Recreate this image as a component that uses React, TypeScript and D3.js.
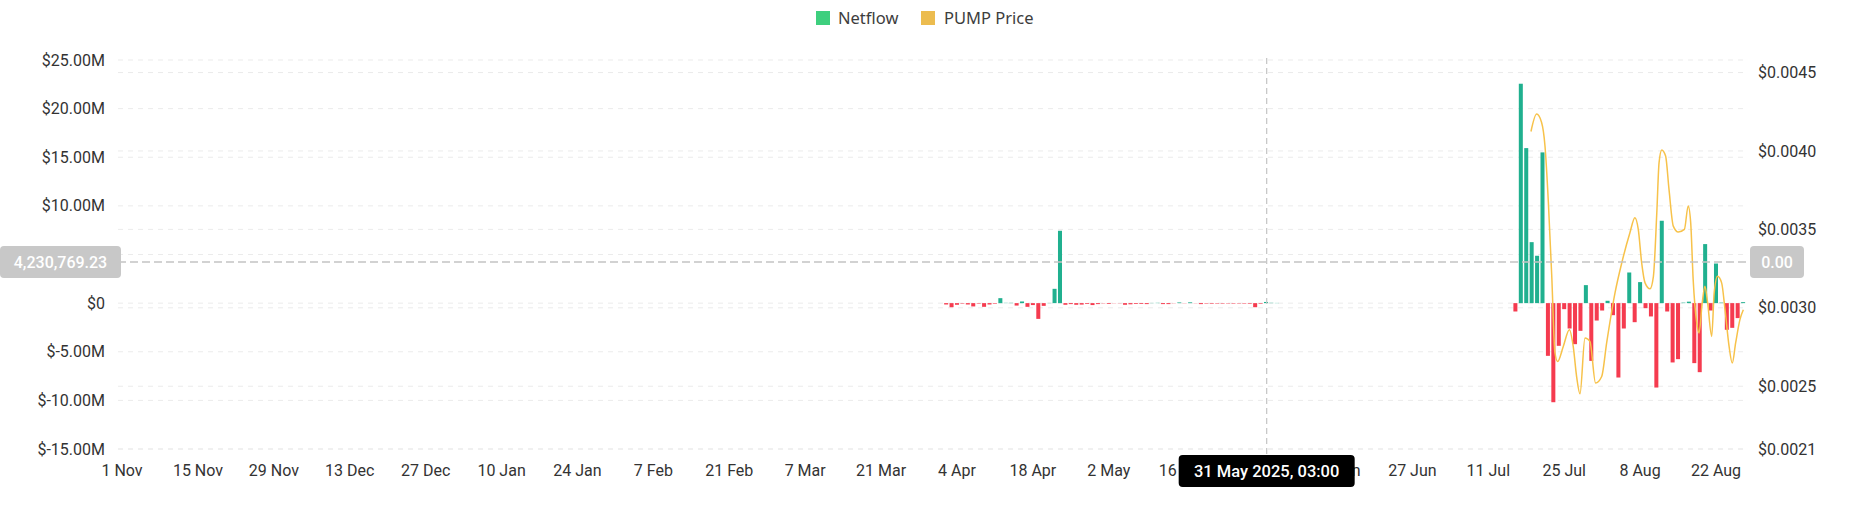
import * as d3 from "d3";

const W = 1852;
const H = 525;
const M = { top: 60, right: 108, bottom: 76, left: 118 };

// daily netflow, $M
const springStart = "2025-04-02";
const springNetflow = [
  -0.14, -0.42, -0.17, -0.05, -0.14, -0.34, -0.05, -0.38, -0.14, -0.06, 0.51, 0.03, 0.03, -0.25, 0.17,
  -0.38, -0.2, -1.62, -0.28, 0.02, 1.47, 7.44, -0.17, -0.1, -0.17, -0.15, -0.08, -0.2, -0.1, -0.03,
  -0.08, -0.02, -0.02, -0.17, -0.12, -0.08, -0.08, -0.1, 0.02, 0.03, -0.1, -0.1, -0.02, 0.07, -0.02,
  0.08, -0.02, -0.1, -0.05, -0.06, -0.05, -0.05, -0.04, -0.05, -0.04, -0.05, -0.06, -0.42, -0.06, 0.12,
  0.03, 0.02,
];
const summerStart = "2025-07-16";
const summerNetflow = [
  -0.86, 22.56, 15.94, 6.27, 4.87, 15.5, -5.42, -10.19, -4.39, -0.62, -2.61, -4.22, -2.85, 1.85, -5.94,
  -1.79, -0.76, 0.24, -1.24, -7.65, -2.61, 3.15, -1.96, 2.16, -0.52, -1.37, -8.68, 8.47, -0.86, -6.1,
  -5.76, 0.05, 0.15, -6.17, -7.1, 6.07, -0.76, 4.07, 0.05, -2.74, -2.54, -1.54, 0.1,
];

const priceTimes = [
  "2025-07-18T21:00Z", "2025-07-19T22:00Z", "2025-07-20T20:00Z", "2025-07-21T11:00Z", "2025-07-22T02:00Z",
  "2025-07-22T17:00Z", "2025-07-23T07:00Z", "2025-07-23T19:00Z", "2025-07-24T20:00Z", "2025-07-25T23:00Z",
  "2025-07-26T16:00Z", "2025-07-27T07:00Z", "2025-07-27T22:00Z", "2025-07-28T20:00Z", "2025-07-29T18:00Z",
  "2025-07-30T19:00Z", "2025-07-31T22:00Z", "2025-08-01T20:00Z", "2025-08-03T09:00Z", "2025-08-04T15:00Z",
  "2025-08-06T03:00Z", "2025-08-07T01:00Z", "2025-08-07T16:00Z", "2025-08-08T07:00Z", "2025-08-08T22:00Z",
  "2025-08-09T20:00Z", "2025-08-10T11:00Z", "2025-08-11T02:00Z", "2025-08-11T12:00Z", "2025-08-12T00:00Z",
  "2025-08-12T17:00Z", "2025-08-13T08:00Z", "2025-08-14T03:00Z", "2025-08-15T01:00Z", "2025-08-16T04:00Z",
  "2025-08-16T21:00Z", "2025-08-17T08:00Z", "2025-08-17T19:00Z", "2025-08-18T11:00Z", "2025-08-18T21:00Z",
  "2025-08-19T11:00Z", "2025-08-19T23:00Z", "2025-08-20T11:00Z", "2025-08-21T05:00Z", "2025-08-21T16:00Z",
  "2025-08-22T07:00Z", "2025-08-23T01:00Z", "2025-08-23T16:00Z", "2025-08-24T10:00Z", "2025-08-25T00:00Z",
  "2025-08-25T15:00Z", "2025-08-26T10:00Z", "2025-08-27T01:00Z",
];
const priceValues = [
  0.004124, 0.004235, 0.004182, 0.004032, 0.003672, 0.003201, 0.002714, 0.002658, 0.002754, 0.002861,
  0.002754, 0.002562, 0.002452, 0.002808, 0.002786, 0.00252, 0.002562, 0.002776, 0.003095, 0.003287,
  0.003479, 0.003575, 0.0035, 0.003287, 0.003159, 0.003121, 0.003201, 0.003607, 0.003926, 0.004007,
  0.003968, 0.003755, 0.003521, 0.003483, 0.0035, 0.003649, 0.003543, 0.00318, 0.002903, 0.00284,
  0.003031, 0.003137, 0.003031, 0.002818, 0.003095, 0.003201, 0.003159, 0.002988, 0.002754, 0.002648,
  0.002776, 0.002925, 0.002988,
];

const xTickDates = [
  "2024-11-01", "2024-11-15", "2024-11-29", "2024-12-13", "2024-12-27", "2025-01-10", "2025-01-24",
  "2025-02-07", "2025-02-21", "2025-03-07", "2025-03-21", "2025-04-04", "2025-04-18", "2025-05-02",
  "2025-05-16", "2025-05-30", "2025-06-13", "2025-06-27", "2025-07-11", "2025-07-25", "2025-08-08",
  "2025-08-22",
];
const leftTicks = [-15, -10, -5, 0, 5, 10, 15, 20, 25];
const rightTicks = [0.0021, 0.0025, 0.003, 0.0035, 0.004, 0.0045];

const crossTime = "2025-05-31T03:00Z";
const crossValue = 4230769.23;
const crossPriceLabel = "0.00";

const GREEN = "#20b08f";
const RED = "#f53b4f";
const GOLD = "#f7c24a";
const FONT = "Roboto, 'Noto Sans', sans-serif";

const parseDay = d3.utcParse("%Y-%m-%d");

function daily(start: string, values: number[]) {
  const s = parseDay(start)!;
  return values.map((v, i) => ({ t: d3.utcDay.offset(s, i), v }));
}

export default function App() {
  const x = d3
    .scaleUtc()
    .domain([new Date("2024-10-31T06:00Z"), new Date("2025-08-27T04:00Z")])
    .range([M.left, W - M.right]);
  const yL = d3.scaleLinear().domain([-15, 25]).range([H - M.bottom, M.top]);
  const yR = d3.scaleLinear().domain([0.0021, 0.00458]).range([H - M.bottom, M.top]);

  const bars = [...daily(springStart, springNetflow), ...daily(summerStart, summerNetflow)];
  const bw = (x(new Date("2025-07-02")) - x(new Date("2025-07-01"))) * 0.74;

  const price = priceTimes.map((t, i) => ({ t: new Date(t), p: priceValues[i] }));
  const pricePath =
    d3
      .line<{ t: Date; p: number }>()
      .x((d) => x(d.t))
      .y((d) => yR(d.p))
      .curve(d3.curveMonotoneX)(price) ?? "";

  const fmtL = (v: number) => (v === 0 ? "$0" : `$${v.toFixed(2)}M`);
  const fmtX = d3.utcFormat("%-d %b");
  const x0 = M.left;
  const x1 = W - M.right;
  const cx = x(new Date(crossTime));
  const cy = yL(crossValue / 1e6);
  // the axis-pointer label box hides any tick label it sits on
  const hidden = (y: number) => Math.abs(y - cy) < 16;

  return (
    <div style={{ position: "fixed", left: 0, top: 0, width: W, height: H, background: "#fff" }}>
      <svg width={W} height={H} style={{ display: "block", fontFamily: FONT }}>
        {/* legend */}
        <rect x={816} y={11} width={14} height={14} fill="#3ecf7e" />
        <text x={838} y={24} fontSize={16.5} fill="#3d3d3d" fontFamily="'Noto Sans', sans-serif">
          Netflow
        </text>
        <rect x={921} y={11} width={14} height={14} fill="#ecbc4f" />
        <text x={944} y={24} fontSize={16.5} fill="#3d3d3d" fontFamily="'Noto Sans', sans-serif">
          PUMP Price
        </text>

        {/* grid lines: left and right axis */}
        {leftTicks.map((t) => (
          <line key={`gl${t}`} x1={x0} x2={x1} y1={yL(t)} y2={yL(t)} stroke="#ebebeb" strokeDasharray="5 5" />
        ))}
        {rightTicks.map((t) => (
          <line key={`gr${t}`} x1={x0} x2={x1} y1={yR(t)} y2={yR(t)} stroke="#ebebeb" strokeDasharray="5 5" />
        ))}

        {/* bars */}
        {bars.map((b) => (
          <rect
            key={+b.t}
            x={x(b.t) - bw / 2}
            y={b.v >= 0 ? yL(b.v) : yL(0)}
            width={bw}
            height={Math.abs(yL(b.v) - yL(0))}
            fill={b.v >= 0 ? GREEN : RED}
          />
        ))}

        <path d={pricePath} fill="none" stroke={GOLD} strokeWidth={1.5} />

        {/* axis labels */}
        {leftTicks
          .filter((t) => !hidden(yL(t)))
          .map((t) => (
            <text key={`l${t}`} x={105} y={yL(t)} dy="0.35em" textAnchor="end" fontSize={16} fill="#333">
              {fmtL(t)}
            </text>
          ))}
        {rightTicks.map((t) => (
          <text key={`r${t}`} x={1758} y={yR(t)} dy="0.35em" fontSize={16} fill="#333">
            ${t.toFixed(4)}
          </text>
        ))}
        {xTickDates.map((d) => (
          <text key={d} x={x(parseDay(d)!)} y={476} textAnchor="middle" fontSize={16} fill="#333">
            {fmtX(parseDay(d)!)}
          </text>
        ))}

        {/* crosshair */}
        <line x1={x0} x2={1750} y1={cy} y2={cy} stroke="#c4c4c4" strokeWidth={1.5} strokeDasharray="8 4" />
        <line x1={cx} x2={cx} y1={M.top - 2} y2={455} stroke="#c4c4c4" strokeWidth={1.2} strokeDasharray="6 4" />
        <rect x={0} y={cy - 16} width={121} height={32} rx={4} fill="#c8c8c8" />
        <text x={60.5} y={cy} dy="0.35em" textAnchor="middle" fontSize={16} fill="#fff" fontWeight={500}>
          {d3.format(",.2f")(crossValue)}
        </text>
        <rect x={1750} y={cy - 16} width={54} height={32} rx={4} fill="#c8c8c8" />
        <text x={1777} y={cy} dy="0.35em" textAnchor="middle" fontSize={16} fill="#fff" fontWeight={500}>
          {crossPriceLabel}
        </text>
        <rect x={cx - 88} y={455} width={176} height={32} rx={4} fill="#000" />
        <text x={cx} y={471} dy="0.35em" textAnchor="middle" fontSize={16.5} fill="#fff" fontWeight={500}>
          {d3.utcFormat("%-d %b %Y, %H:%M")(new Date(crossTime))}
        </text>
      </svg>
    </div>
  );
}
